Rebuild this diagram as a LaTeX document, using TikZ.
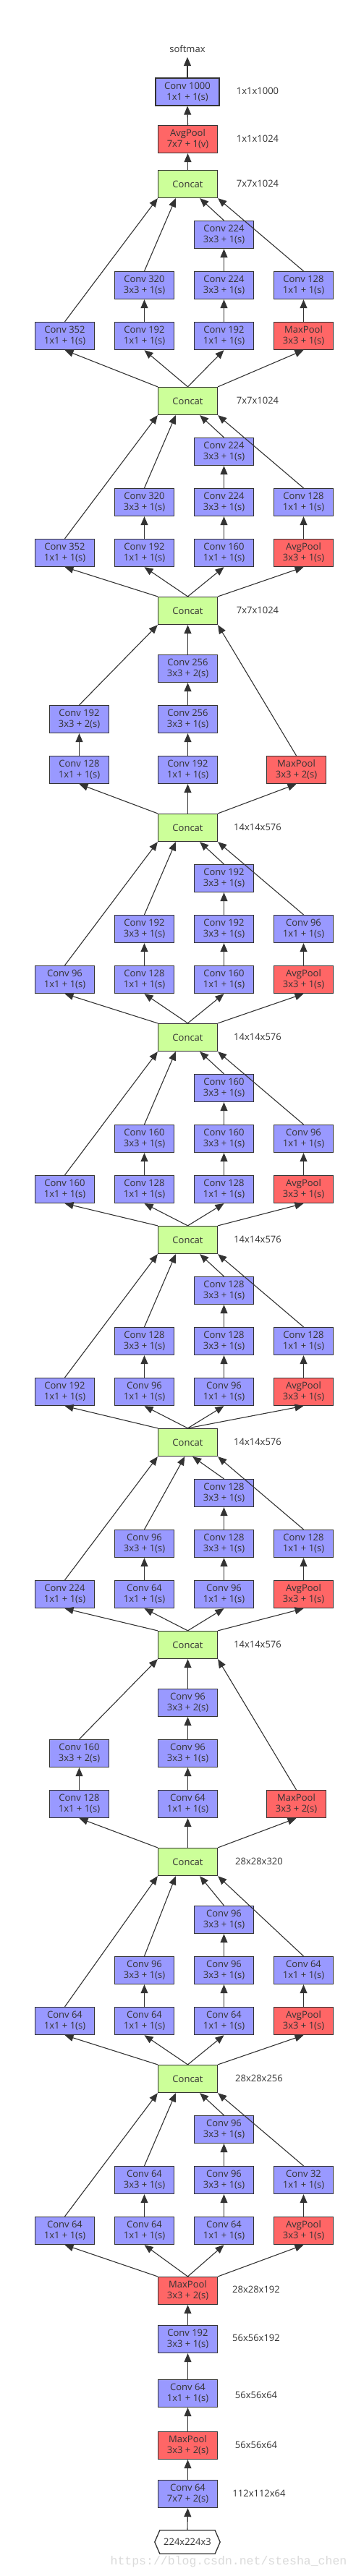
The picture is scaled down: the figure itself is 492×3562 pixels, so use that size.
\documentclass[tikz,border=0pt]{standalone}
\usepackage{fontspec}
\setmainfont{Open Sans}
\newfontfamily\wmfont{Liberation Mono}
\usetikzlibrary{arrows.meta,calc}
\definecolor{convc}{HTML}{9999FF}
\definecolor{poolc}{HTML}{FF6666}
\definecolor{catc}{HTML}{CCFF99}
\definecolor{edgec}{HTML}{333333}
\definecolor{wmc}{HTML}{DADADA}
% #1 prefix, #2 output concat, #3 input node, #4 #5 entry fractions, #6 anchor of the pool edge
\newcommand\incedges[6]{%
  \draw[arr] (#3.north west) -- (#11b.south);
  \draw[arr] (#3.north) -- (#12b.south);
  \draw[arr] (#3.north) -- (#13b.south);
  \draw[arr] (#3.#6) -- (#14b.south);
  \draw[arr] (#12b.north) -- (#12m.south);
  \draw[arr] (#13b.north) -- (#13m.south);
  \draw[arr] (#13m.north) -- (#13t.south);
  \draw[arr] (#14b.north) -- (#14m.south);
  \draw[arr] (#11b.north) -- (#2.south west);
  \draw[arr] (#12m.north) -- ($(#2.south west)!#4!(#2.south east)$);
  \draw[arr] (#13t.north) -- ($(#2.south west)!#5!(#2.south east)$);
  \draw[arr] (#14m.north) -- (#2.south east);
}
\newcommand\redges[3]{%
  \draw[arr] (#3.north west) -- (#11b.south);
  \draw[arr] (#3.north) -- (#12b.south);
  \draw[arr] (#3.north east) -- (#13b.south);
  \draw[arr] (#11b.north) -- (#11m.south);
  \draw[arr] (#12b.north) -- (#12m.south);
  \draw[arr] (#12m.north) -- (#12t.south);
  \draw[arr] (#11m.north) -- (#2.south west);
  \draw[arr] (#12t.north) -- (#2.south);
  \draw[arr] (#13b.north) -- (#2.south east);
}
\begin{document}
\begin{tikzpicture}[x=1pt,y=-1pt,
  box/.style={rectangle,draw=edgec,line width=1.3pt,minimum width=82pt,minimum height=38pt,inner sep=0pt,align=center,text=edgec,font=\fontsize{13}{15}\selectfont},
  conv/.style={box,fill=convc},
  pool/.style={box,fill=poolc},
  cat/.style={box,fill=catc},
  lbl/.style={text=edgec,font=\fontsize{13}{15}\selectfont,inner sep=0pt},
  arr/.style={draw=edgec,line width=1.1pt,-{Triangle[length=12pt,width=10pt]}},
]
\fill[white] (0,0) rectangle (492,3562);
\useasboundingbox (0,0) rectangle (492,3562);

% ---------- top ----------
\node[lbl,outer sep=6pt] (softmax) at (259,68) {softmax};
\node[conv,minimum width=88pt] (fc) at (259,127) {Conv 1000\\1x1 + 1(s)};
\node[pool] (avg) at (259.5,192.5) {AvgPool\\7x7 + 1(v)};
\node[cat] (cat1) at (259.5,254.5) {Concat};

% ---------- module a ----------
\node[conv] (a3t) at (309.5,324.5) {Conv 224\\3x3 + 1(s)};
\node[conv] (a2m) at (199.5,394.5) {Conv 320\\3x3 + 1(s)};
\node[conv] (a3m) at (309.5,394.5) {Conv 224\\3x3 + 1(s)};
\node[conv] (a4m) at (419.5,394.5) {Conv 128\\1x1 + 1(s)};
\node[conv] (a1b) at (89.5,464.5) {Conv 352\\1x1 + 1(s)};
\node[conv] (a2b) at (199.5,464.5) {Conv 192\\1x1 + 1(s)};
\node[conv] (a3b) at (309.5,464.5) {Conv 192\\1x1 + 1(s)};
\node[pool] (a4b) at (419.5,464.5) {MaxPool\\3x3 + 1(s)};
\node[cat] (cat2) at (259.5,554.5) {Concat};

% ---------- module b ----------
\node[conv] (b3t) at (309.5,624.5) {Conv 224\\3x3 + 1(s)};
\node[conv] (b2m) at (199.5,694.5) {Conv 320\\3x3 + 1(s)};
\node[conv] (b3m) at (309.5,694.5) {Conv 224\\3x3 + 1(s)};
\node[conv] (b4m) at (419.5,694.5) {Conv 128\\1x1 + 1(s)};
\node[conv] (b1b) at (89.5,764.5) {Conv 352\\1x1 + 1(s)};
\node[conv] (b2b) at (199.5,764.5) {Conv 192\\1x1 + 1(s)};
\node[conv] (b3b) at (309.5,764.5) {Conv 160\\1x1 + 1(s)};
\node[pool] (b4b) at (419.5,764.5) {AvgPool\\3x3 + 1(s)};
\node[cat] (cat3) at (259.5,844.5) {Concat};

% ---------- module c (reduction) ----------
\node[conv] (c2t) at (259.5,924.5) {Conv 256\\3x3 + 2(s)};
\node[conv] (c1m) at (109.5,994.5) {Conv 192\\3x3 + 2(s)};
\node[conv] (c2m) at (259.5,994.5) {Conv 256\\3x3 + 1(s)};
\node[conv] (c1b) at (109.5,1064.5) {Conv 128\\1x1 + 1(s)};
\node[conv] (c2b) at (259.5,1064.5) {Conv 192\\1x1 + 1(s)};
\node[pool] (c3b) at (409.5,1064.5) {MaxPool\\3x3 + 2(s)};
\node[cat] (cat4) at (259.5,1144.5) {Concat};

% ---------- module d ----------
\node[conv] (d3t) at (309.5,1214.5) {Conv 192\\3x3 + 1(s)};
\node[conv] (d2m) at (199.5,1284.5) {Conv 192\\3x3 + 1(s)};
\node[conv] (d3m) at (309.5,1284.5) {Conv 192\\3x3 + 1(s)};
\node[conv] (d4m) at (419.5,1284.5) {Conv 96\\1x1 + 1(s)};
\node[conv] (d1b) at (89.5,1354.5) {Conv 96\\1x1 + 1(s)};
\node[conv] (d2b) at (199.5,1354.5) {Conv 128\\1x1 + 1(s)};
\node[conv] (d3b) at (309.5,1354.5) {Conv 160\\1x1 + 1(s)};
\node[pool] (d4b) at (419.5,1354.5) {AvgPool\\3x3 + 1(s)};
\node[cat] (cat5) at (259.5,1434.5) {Concat};

% ---------- module e ----------
\node[conv] (e3t) at (309.5,1504.5) {Conv 160\\3x3 + 1(s)};
\node[conv] (e2m) at (199.5,1574.5) {Conv 160\\3x3 + 1(s)};
\node[conv] (e3m) at (309.5,1574.5) {Conv 160\\3x3 + 1(s)};
\node[conv] (e4m) at (419.5,1574.5) {Conv 96\\1x1 + 1(s)};
\node[conv] (e1b) at (89.5,1644.5) {Conv 160\\1x1 + 1(s)};
\node[conv] (e2b) at (199.5,1644.5) {Conv 128\\1x1 + 1(s)};
\node[conv] (e3b) at (309.5,1644.5) {Conv 128\\1x1 + 1(s)};
\node[pool] (e4b) at (419.5,1644.5) {AvgPool\\3x3 + 1(s)};
\node[cat] (cat6) at (259.5,1714.5) {Concat};

% ---------- module f ----------
\node[conv] (f3t) at (309.5,1784.5) {Conv 128\\3x3 + 1(s)};
\node[conv] (f2m) at (199.5,1854.5) {Conv 128\\3x3 + 1(s)};
\node[conv] (f3m) at (309.5,1854.5) {Conv 128\\3x3 + 1(s)};
\node[conv] (f4m) at (419.5,1854.5) {Conv 128\\1x1 + 1(s)};
\node[conv] (f1b) at (89.5,1924.5) {Conv 192\\1x1 + 1(s)};
\node[conv] (f2b) at (199.5,1924.5) {Conv 96\\1x1 + 1(s)};
\node[conv] (f3b) at (309.5,1924.5) {Conv 96\\1x1 + 1(s)};
\node[pool] (f4b) at (419.5,1924.5) {AvgPool\\3x3 + 1(s)};
\node[cat] (cat7) at (259.5,1994.5) {Concat};

% ---------- module g ----------
\node[conv] (g3t) at (309.5,2064.5) {Conv 128\\3x3 + 1(s)};
\node[conv] (g2m) at (199.5,2134.5) {Conv 96\\3x3 + 1(s)};
\node[conv] (g3m) at (309.5,2134.5) {Conv 128\\3x3 + 1(s)};
\node[conv] (g4m) at (419.5,2134.5) {Conv 128\\1x1 + 1(s)};
\node[conv] (g1b) at (89.5,2204.5) {Conv 224\\1x1 + 1(s)};
\node[conv] (g2b) at (199.5,2204.5) {Conv 64\\1x1 + 1(s)};
\node[conv] (g3b) at (309.5,2204.5) {Conv 96\\1x1 + 1(s)};
\node[pool] (g4b) at (419.5,2204.5) {AvgPool\\3x3 + 1(s)};
\node[cat] (cat8) at (259.5,2274.5) {Concat};

% ---------- module h (reduction) ----------
\node[conv] (h2t) at (259.5,2354.5) {Conv 96\\3x3 + 2(s)};
\node[conv] (h1m) at (109.5,2424.5) {Conv 160\\3x3 + 2(s)};
\node[conv] (h2m) at (259.5,2424.5) {Conv 96\\3x3 + 1(s)};
\node[conv] (h1b) at (109.5,2494.5) {Conv 128\\1x1 + 1(s)};
\node[conv] (h2b) at (259.5,2494.5) {Conv 64\\1x1 + 1(s)};
\node[pool] (h3b) at (409.5,2494.5) {MaxPool\\3x3 + 2(s)};
\node[cat] (cat9) at (259.5,2574.5) {Concat};

% ---------- module i ----------
\node[conv] (i3t) at (309.5,2654.5) {Conv 96\\3x3 + 1(s)};
\node[conv] (i2m) at (199.5,2724.5) {Conv 96\\3x3 + 1(s)};
\node[conv] (i3m) at (309.5,2724.5) {Conv 96\\3x3 + 1(s)};
\node[conv] (i4m) at (419.5,2724.5) {Conv 64\\1x1 + 1(s)};
\node[conv] (i1b) at (89.5,2794.5) {Conv 64\\1x1 + 1(s)};
\node[conv] (i2b) at (199.5,2794.5) {Conv 64\\1x1 + 1(s)};
\node[conv] (i3b) at (309.5,2794.5) {Conv 64\\1x1 + 1(s)};
\node[pool] (i4b) at (419.5,2794.5) {AvgPool\\3x3 + 1(s)};
\node[cat] (cat10) at (259.5,2874.5) {Concat};

% ---------- module j ----------
\node[conv] (j3t) at (309.5,2944.5) {Conv 96\\3x3 + 1(s)};
\node[conv] (j2m) at (199.5,3014.5) {Conv 64\\3x3 + 1(s)};
\node[conv] (j3m) at (309.5,3014.5) {Conv 96\\3x3 + 1(s)};
\node[conv] (j4m) at (419.5,3014.5) {Conv 32\\1x1 + 1(s)};
\node[conv] (j1b) at (89.5,3084.5) {Conv 64\\1x1 + 1(s)};
\node[conv] (j2b) at (199.5,3084.5) {Conv 64\\1x1 + 1(s)};
\node[conv] (j3b) at (309.5,3084.5) {Conv 64\\1x1 + 1(s)};
\node[pool] (j4b) at (419.5,3084.5) {AvgPool\\3x3 + 1(s)};

% ---------- stem ----------
\node[pool] (mp3) at (259.5,3167.5) {MaxPool\\3x3 + 2(s)};
\node[conv] (s192) at (259.5,3234.5) {Conv 192\\3x3 + 1(s)};
\node[conv] (s64) at (259.5,3309.5) {Conv 64\\1x1 + 1(s)};
\node[pool] (mp2) at (259.5,3381.5) {MaxPool\\3x3 + 2(s)};
\node[conv] (s7) at (259.5,3448.5) {Conv 64\\7x7 + 2(s)};
\node[lbl,minimum width=90pt,minimum height=32pt] (inp) at (259,3515) {224x224x3};
\draw[edgec,line width=1.3pt,line join=miter] (inp.west) -- ([xshift=7pt]inp.north west) -- ([xshift=-7pt]inp.north east) -- (inp.east) -- ([xshift=-7pt]inp.south east) -- ([xshift=7pt]inp.south west) -- cycle;

% ---------- size labels ----------
\node[lbl] (l1) at (356,126) {1x1x1000};
\node[lbl] (l2) at (356,192) {1x1x1024};
\node[lbl] (l3) at (356,254) {7x7x1024};
\node[lbl] (l4) at (356,554) {7x7x1024};
\node[lbl] (l5) at (356,844) {7x7x1024};
\node[lbl] (l6) at (356,1144) {14x14x576};
\node[lbl] (l7) at (356,1434) {14x14x576};
\node[lbl] (l8) at (356,1714) {14x14x576};
\node[lbl] (l9) at (356,1994) {14x14x576};
\node[lbl] (l10) at (356,2274) {14x14x576};
\node[lbl] (l11) at (358,2574) {28x28x320};
\node[lbl] (l12) at (358,2874) {28x28x256};
\node[lbl] (l13) at (354,3166) {28x28x192};
\node[lbl] (l14) at (354,3233) {56x56x192};
\node[lbl] (l15) at (354,3312) {56x56x64};
\node[lbl] (l16) at (354,3381) {56x56x64};
\node[lbl] (l17) at (358,3448) {112x112x64};

% ---------- watermark ----------
\node[text=wmc,inner sep=0pt,font=\wmfont\fontsize{16.5}{18}\selectfont] (wm) at (316,3542) {https://blog.csdn.net/stesha\_chen};

% ---------- edges ----------
\draw[arr] (fc.north) -- (softmax.south);
\draw[arr] (avg.north) -- (fc.south);
\draw[arr] (cat1.north) -- (avg.south);
\incedges{a}{cat1}{cat2}{0.3}{0.7}{north east}
\incedges{b}{cat2}{cat3}{0.3}{0.7}{north east}
\redges{c}{cat3}{cat4}
\incedges{d}{cat4}{cat5}{0.3}{0.7}{north east}
\incedges{e}{cat5}{cat6}{0.3}{0.7}{north east}
\incedges{f}{cat6}{cat7}{0.3}{0.7}{north}
\incedges{g}{cat7}{cat8}{0.45}{0.58}{north east}
\redges{h}{cat8}{cat9}
\incedges{i}{cat9}{cat10}{0.3}{0.7}{north east}
\incedges{j}{cat10}{mp3}{0.3}{0.7}{north east}
\draw[arr] (s192.north) -- (mp3.south);
\draw[arr] (s64.north) -- (s192.south);
\draw[arr] (mp2.north) -- (s64.south);
\draw[arr] (s7.north) -- (mp2.south);
\draw[arr] (inp.north) -- (s7.south);
\end{tikzpicture}
\end{document}
